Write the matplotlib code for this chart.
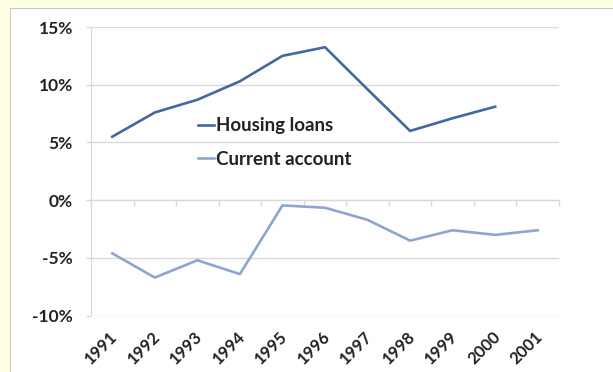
import matplotlib
matplotlib.use("Agg")
import matplotlib.pyplot as plt
from matplotlib.patches import Rectangle
from matplotlib.ticker import FuncFormatter
import numpy as np

years = ["1991", "1992", "1993", "1994", "1995", "1996",
         "1997", "1998", "1999", "2000", "2001"]
housing_loans = [5.5, 7.6, 8.7, 10.3, 12.5, 13.25, 9.6, 6.0, 7.1, 8.1, None]
current_account = [-4.6, -6.7, -5.2, -6.4, -0.45, -0.65, -1.7, -3.5, -2.6, -3.0, -2.6]
y_ticks = [-10, -5, 0, 5, 10, 15]

dark_blue = "#44689f"
light_blue = "#8ea6cd"
grid_grey = "#d9d9d9"

plt.rcParams["font.family"] = ["Lato", "DejaVu Sans"]
plt.rcParams["font.weight"] = "bold"

fig = plt.figure(figsize=(6.13, 3.72), dpi=100)
fig.patch.set_facecolor("#ffffe3")
# white chart panel with a thin border, sitting on the yellow page
panel = Rectangle((10 / 613, -0.05), 1.2, 1.05 - 8 / 372,
                  transform=fig.transFigure, facecolor="white",
                  edgecolor="#c9c9c9", linewidth=0.8, zorder=-10)
fig.add_artist(panel)

ax = fig.add_axes([91 / 613, 1 - 315.7 / 372, 468 / 613, (315.7 - 27) / 372])
ax.set_facecolor("none")

x = np.arange(len(years))
hl = np.array([np.nan if v is None else v for v in housing_loans], dtype=float)
ca = np.array(current_account, dtype=float)

ax.plot(x, hl, color=dark_blue, lw=1.9, solid_joinstyle="round", label="Housing loans")
ax.plot(x, ca, color=light_blue, lw=1.9, solid_joinstyle="round", label="Current account")

ax.set_xlim(-0.5, len(years) - 0.5)
ax.set_ylim(min(y_ticks), max(y_ticks))
ax.set_yticks(y_ticks)
ax.yaxis.set_major_formatter(FuncFormatter(lambda v, p: f"{v:.0f}%"))
ax.grid(axis="y", color=grid_grey, lw=1.0)
ax.set_axisbelow(True)

for side in ["top", "right", "bottom"]:
    ax.spines[side].set_visible(False)
ax.spines["left"].set_color(grid_grey)
ax.tick_params(axis="y", length=3.6, width=1.0, color=grid_grey, pad=9.5,
               labelsize=12.5, labelcolor="#222222")

ax.set_xticks(x + 0.06)
ax.set_xticklabels(years, rotation=45, ha="right", va="center",
                   rotation_mode="anchor", fontsize=12, color="#222222")
ax.tick_params(axis="x", length=0, pad=13)

# category axis drawn through zero, with tick marks between categories
zero_frac = (0 - min(y_ticks)) / (max(y_ticks) - min(y_ticks))
sec = ax.secondary_xaxis(zero_frac)
sec.set_xticks(np.arange(len(years) + 1) - 0.5)
sec.tick_params(axis="x", length=4.5, width=1.0, color=grid_grey,
                labelbottom=False, labeltop=False)
sec.spines["bottom"].set_color(grid_grey)

leg = ax.legend(loc="upper left", bbox_to_anchor=(0.228, 0.688), frameon=False,
                fontsize=13.5, handlelength=0.85, handletextpad=0.15,
                labelspacing=0.9, borderaxespad=0, borderpad=0)
for t in leg.get_texts():
    t.set_color("#222222")

fig.savefig("out.png", dpi=100, facecolor=fig.get_facecolor())
